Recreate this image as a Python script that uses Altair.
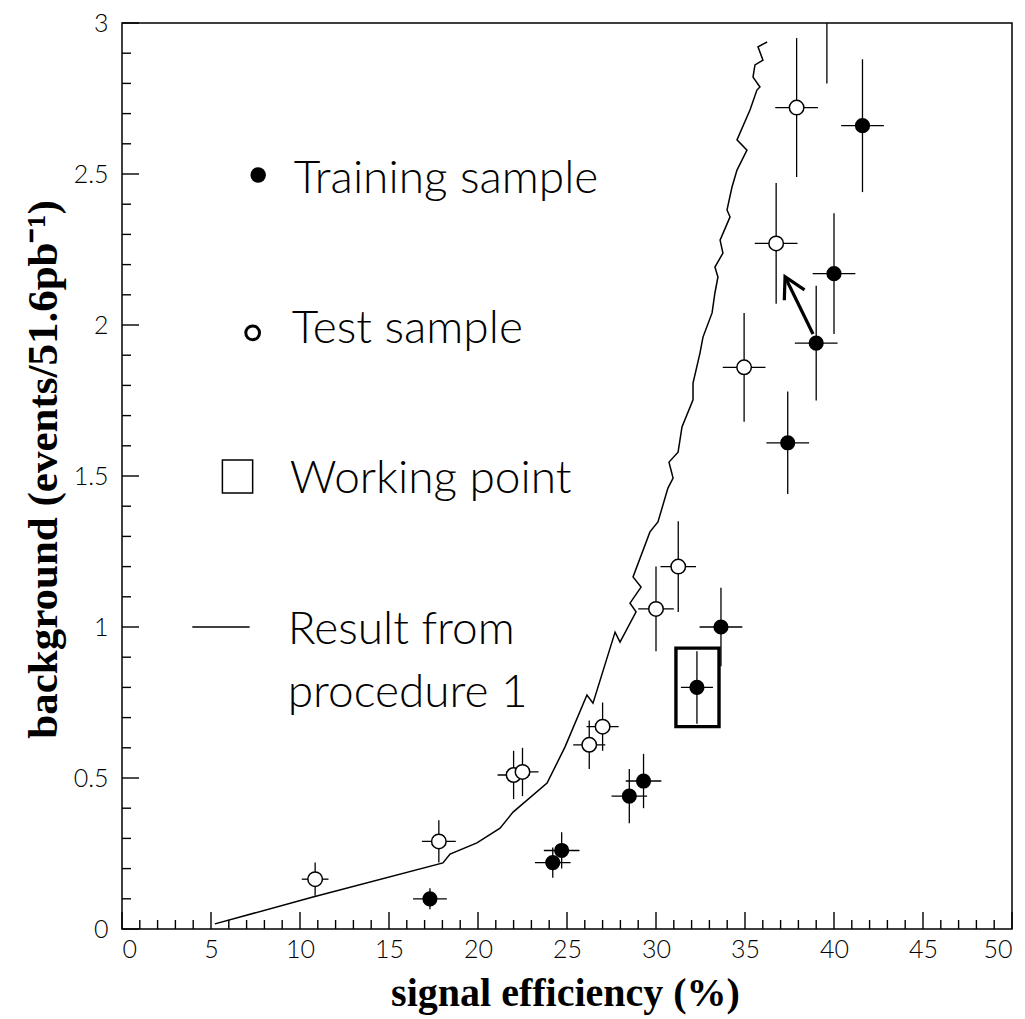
import altair as alt
import pandas as pd

# ---------------- data ----------------
train_x = [17.3, 24.2, 24.7, 28.5, 29.3, 32.3, 33.65, 37.4, 39.0, 40.0, 41.6]
train_y = [0.10, 0.22, 0.26, 0.44, 0.49, 0.80, 1.00, 1.61, 1.94, 2.17, 2.66]
train_xerr = [0.95, 1.0, 1.0, 1.0, 1.0, 0.9, 1.2, 1.2, 1.2, 1.2, 1.2]
train_yerr = [0.035, 0.05, 0.06, 0.09, 0.09, 0.12, 0.13, 0.17, 0.19, 0.20, 0.22]

test_x = [10.85, 17.8, 22.0, 22.5, 26.25, 27.0, 30.0, 31.25, 34.95, 36.75, 37.9, 39.6]
test_y = [0.165, 0.29, 0.51, 0.52, 0.61, 0.67, 1.06, 1.20, 1.86, 2.27, 2.72, 3.06]
test_xerr = [0.75, 0.95, 0.9, 0.9, 0.9, 0.9, 1.0, 1.0, 1.2, 1.2, 1.2, 1.2]
test_yerr = [0.055, 0.07, 0.08, 0.08, 0.08, 0.08, 0.14, 0.15, 0.18, 0.20, 0.23, 0.26]

curve_x = [5.22, 10.73, 18.03, 18.43, 19.94, 21.24, 21.97, 23.88, 24.89, 26.12, 26.46,
           27.70, 27.98, 28.88, 28.54, 29.16, 28.71, 29.66, 30.11, 30.67, 30.96, 30.73,
           31.24, 31.46, 32.08, 32.08, 32.47, 32.64, 33.15, 33.31, 33.48, 33.31, 33.76,
           33.60, 34.16, 33.99, 34.27, 34.55, 35.11, 34.55, 35.28, 35.67, 35.84, 35.45,
           35.56, 36.01, 35.73, 36.24]
curve_y = [0.017, 0.106, 0.219, 0.248, 0.285, 0.334, 0.387, 0.483, 0.603, 0.775, 0.748,
           0.983, 0.950, 1.050, 1.079, 1.132, 1.166, 1.315, 1.348, 1.460, 1.493, 1.546,
           1.579, 1.662, 1.752, 1.808, 1.907, 1.960, 2.040, 2.106, 2.159, 2.192, 2.238,
           2.281, 2.358, 2.381, 2.457, 2.513, 2.579, 2.613, 2.712, 2.778, 2.788, 2.821,
           2.861, 2.877, 2.921, 2.937]

working_box_x = [31.12, 33.54]
working_box_y = [0.67, 0.93]

arrow_start = [38.82, 1.97]
arrow_end = [37.25, 2.16]

x_major = [0, 5, 10, 15, 20, 25, 30, 35, 40, 45, 50]
x_minor = [v for v in range(0, 51) if v % 5 != 0]
y_major = [0, 0.5, 1, 1.5, 2, 2.5, 3]
y_minor = [round(i * 0.1, 1) for i in range(31) if i % 5 != 0]

legend_text = ["Training sample", "Test sample", "Working point", "Result from", "procedure 1"]
legend_text_x = [9.65, 9.54, 9.42, 9.31, 9.31]
legend_text_y = [2.437, 1.940, 1.444, 0.944, 0.735]

# ---------------- frames ----------------
train = pd.DataFrame({"x": train_x, "y": train_y, "xe": train_xerr, "ye": train_yerr})
train["xl"], train["xh"] = train.x - train.xe, train.x + train.xe
train["yl"], train["yh"] = train.y - train.ye, train.y + train.ye
test = pd.DataFrame({"x": test_x, "y": test_y, "xe": test_xerr, "ye": test_yerr})
test["xl"], test["xh"] = test.x - test.xe, test.x + test.xe
test["yl"], test["yh"] = test.y - test.ye, test.y + test.ye
curve = pd.DataFrame({"x": curve_x, "y": curve_y, "o": range(len(curve_x))})

W, H = 890, 906
xs = alt.Scale(domain=[0, 50], nice=False, zero=False)
ys = alt.Scale(domain=[0, 3], nice=False, zero=False)
LAB_FONT = "Lato"

X = alt.X("x:Q", scale=xs, axis=alt.Axis(
    values=x_major, ticks=False, domain=False, grid=False, labelFont=LAB_FONT,
    labelFontSize=25, labelFontWeight=300, labelColor="black", labelPadding=8,
    title="signal efficiency (%)", titleFont="Liberation Serif", titleFontSize=40,
    titleFontWeight="bold", titleColor="black", titleBaseline="alphabetic",
    titleY=76, titleX=W / 2 - 2))
Y = alt.Y("y:Q", scale=ys, axis=alt.Axis(
    values=y_major, format="~g", ticks=False, domain=False, grid=False, labelFont=LAB_FONT,
    labelFontSize=25, labelFontWeight=300, labelColor="black", labelPadding=14,
    title="background (events/51.6pb⁻¹)", titleFont="Liberation Serif", titleFontSize=43,
    titleFontWeight="bold", titleColor="black", titleBaseline="alphabetic",
    titleAngle=-90, titleX=-66, titleY=446))

layers = []

# axis ticks (inward)
layers.append(alt.Chart(pd.DataFrame({"x": x_major})).mark_rule(color="black", strokeWidth=1.4)
              .encode(x=X, y=alt.value(H), y2=alt.value(H - 17)))
layers.append(alt.Chart(pd.DataFrame({"x": x_minor})).mark_rule(color="black", strokeWidth=1.4)
              .encode(x=alt.X("x:Q", scale=xs), y=alt.value(H), y2=alt.value(H - 9)))
layers.append(alt.Chart(pd.DataFrame({"y": y_major})).mark_rule(color="black", strokeWidth=1.4)
              .encode(y=Y, x=alt.value(0), x2=alt.value(17)))
layers.append(alt.Chart(pd.DataFrame({"y": y_minor})).mark_rule(color="black", strokeWidth=1.4)
              .encode(y=alt.Y("y:Q", scale=ys), x=alt.value(0), x2=alt.value(9)))

# curve
layers.append(alt.Chart(curve).mark_line(color="black", strokeWidth=1.5, clip=True)
              .encode(x=alt.X("x:Q", scale=xs), y=alt.Y("y:Q", scale=ys), order="o:Q"))

# working point box
wb = pd.DataFrame({"x": [working_box_x[0]], "x2": [working_box_x[1]],
                   "y": [working_box_y[0]], "y2": [working_box_y[1]]})
layers.append(alt.Chart(wb).mark_rect(fill=None, stroke="black", strokeWidth=3.4)
              .encode(x=alt.X("x:Q", scale=xs), x2="x2:Q", y=alt.Y("y:Q", scale=ys), y2="y2:Q"))

# error bars
for df in (train, test):
    layers.append(alt.Chart(df).mark_rule(color="black", strokeWidth=1.3, clip=True)
                  .encode(x=alt.X("xl:Q", scale=xs), x2="xh:Q", y=alt.Y("y:Q", scale=ys)))
    layers.append(alt.Chart(df).mark_rule(color="black", strokeWidth=1.3, clip=True)
                  .encode(x=alt.X("x:Q", scale=xs), y=alt.Y("yl:Q", scale=ys), y2="yh:Q"))

# points
layers.append(alt.Chart(train).mark_point(shape="circle", filled=True, color="black", size=230, opacity=1, clip=True)
              .encode(x=alt.X("x:Q", scale=xs), y=alt.Y("y:Q", scale=ys)))
layers.append(alt.Chart(test).mark_point(shape="circle", filled=True, fill="white", stroke="black",
                                         strokeWidth=1.5, size=210, opacity=1, clip=True)
              .encode(x=alt.X("x:Q", scale=xs), y=alt.Y("y:Q", scale=ys)))

# arrow
arr = pd.DataFrame({"x": [arrow_start[0]], "y": [arrow_start[1]], "x2": [arrow_end[0]], "y2": [arrow_end[1]]})
layers.append(alt.Chart(arr).mark_rule(color="black", strokeWidth=3.2)
              .encode(x=alt.X("x:Q", scale=xs), y=alt.Y("y:Q", scale=ys), x2="x2:Q", y2="y2:Q"))
layers.append(alt.Chart(arr).mark_point(shape="M-0.55,1L0,0L0.55,1", filled=False, color="black",
                                        strokeWidth=3.2, size=1700, angle=333, opacity=1)
              .encode(x=alt.X("x2:Q", scale=xs), y=alt.Y("y2:Q", scale=ys)))

# legend
layers.append(alt.Chart(pd.DataFrame({"x": [7.65], "y": [2.497]}))
              .mark_point(shape="circle", filled=True, color="black", size=240, opacity=1)
              .encode(x=alt.X("x:Q", scale=xs), y=alt.Y("y:Q", scale=ys)))
layers.append(alt.Chart(pd.DataFrame({"x": [7.34], "y": [1.974]}))
              .mark_point(shape="circle", filled=True, fill="white", stroke="black", strokeWidth=3,
                          size=190, opacity=1)
              .encode(x=alt.X("x:Q", scale=xs), y=alt.Y("y:Q", scale=ys)))
layers.append(alt.Chart(pd.DataFrame({"x": [5.64], "x2": [7.34], "y": [1.444], "y2": [1.553]}))
              .mark_rect(fill=None, stroke="black", strokeWidth=1.5)
              .encode(x=alt.X("x:Q", scale=xs), x2="x2:Q", y=alt.Y("y:Q", scale=ys), y2="y2:Q"))
layers.append(alt.Chart(pd.DataFrame({"x": [3.95], "x2": [7.17], "y": [1.0]}))
              .mark_rule(color="black", strokeWidth=1.3)
              .encode(x=alt.X("x:Q", scale=xs), x2="x2:Q", y=alt.Y("y:Q", scale=ys)))
layers.append(alt.Chart(pd.DataFrame({"x": legend_text_x, "y": legend_text_y, "t": legend_text}))
              .mark_text(align="left", baseline="alphabetic", font=LAB_FONT, fontSize=46,
                         fontWeight=300, color="black")
              .encode(x=alt.X("x:Q", scale=xs), y=alt.Y("y:Q", scale=ys), text="t:N"))

chart = alt.layer(*layers).properties(
    width=W, height=H,
    autosize=alt.AutoSizeParams(type="none"),
    padding={"left": 122, "top": 23, "right": 13, "bottom": 90},
    background="white",
).configure_view(stroke="black", strokeWidth=1.5)

chart.save("out.html", embed_options={"renderer": "svg", "actions": False})
